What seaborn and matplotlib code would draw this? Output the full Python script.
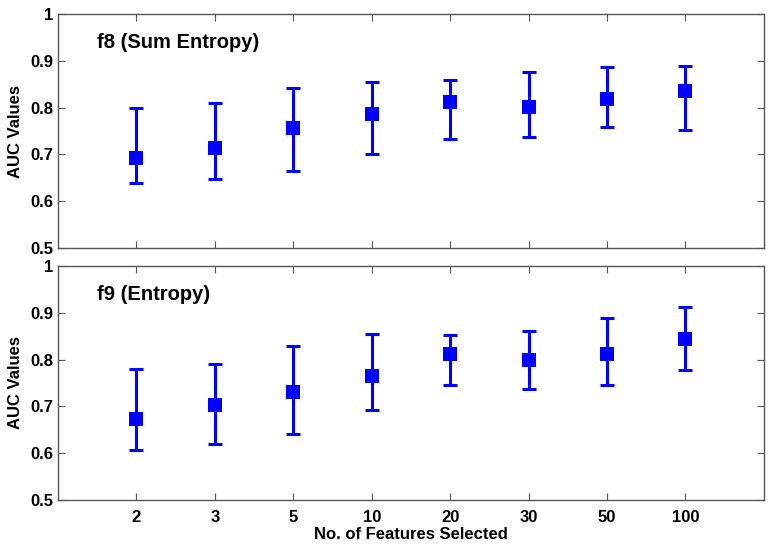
import numpy as np
import matplotlib.pyplot as plt
import seaborn as sns

# numero de features seleccionadas (eje x categorico)
n_features = ["2", "3", "5", "10", "20", "30", "50", "100"]

# f8 (Sum Entropy)
f8_auc = [0.693, 0.713, 0.757, 0.787, 0.812, 0.802, 0.818, 0.835]
f8_low = [0.640, 0.648, 0.664, 0.701, 0.733, 0.737, 0.758, 0.753]
f8_high = [0.799, 0.809, 0.841, 0.854, 0.858, 0.876, 0.886, 0.889]

# f9 (Entropy)
f9_auc = [0.674, 0.703, 0.731, 0.765, 0.812, 0.800, 0.812, 0.845]
f9_low = [0.607, 0.620, 0.642, 0.692, 0.745, 0.738, 0.745, 0.777]
f9_high = [0.779, 0.791, 0.829, 0.855, 0.852, 0.862, 0.888, 0.913]

panels = [
    ("f8 (Sum Entropy)", f8_auc, f8_low, f8_high),
    ("f9 (Entropy)", f9_auc, f9_low, f9_high),
]

sns.set_style("ticks")
plt.rcParams["font.family"] = ["Liberation Sans", "DejaVu Sans"]
plt.rcParams["font.weight"] = "bold"
plt.rcParams["text.color"] = "black"
plt.rcParams["axes.labelcolor"] = "black"

fig = plt.figure(figsize=(7.74, 5.48), dpi=100)
ax_top = fig.add_axes([0.0749, 0.5474, 0.912, 0.427])
ax_bot = fig.add_axes([0.0749, 0.0876, 0.912, 0.427])

x = np.arange(1, len(n_features) + 1)
azul = "#0000FF"

for ax, (titulo, auc, low, high) in zip([ax_top, ax_bot], panels):
    auc = np.array(auc)
    err = [auc - np.array(low), np.array(high) - auc]
    ax.errorbar(x, auc, yerr=err, fmt="none", ecolor=azul,
                elinewidth=2.2, capsize=5, capthick=2.2, zorder=2)
    sns.scatterplot(x=x, y=auc, marker="s", s=115, color=azul,
                    edgecolor=azul, linewidth=0, ax=ax, zorder=3)
    ax.set_xlim(0, 9)
    ax.set_ylim(0.5, 1)
    ax.set_xticks(x)
    ax.set_yticks([0.5, 0.6, 0.7, 0.8, 0.9, 1.0])
    ax.set_yticklabels(["0.5", "0.6", "0.7", "0.8", "0.9", "1"])
    ax.tick_params(direction="in", top=True, right=True, length=5,
                   width=0.8, color="#555555", labelcolor="black",
                   labelsize=12)
    ax.tick_params(axis="x", pad=7)
    for sp in ax.spines.values():
        sp.set_color("#555555")
        sp.set_linewidth(1.0)
    ax.set_ylabel("AUC Values", fontsize=12, fontweight="bold", labelpad=5)
    ax.text(0.055, 0.855, titulo, transform=ax.transAxes,
            fontsize=14.5, fontweight="bold")

ax_top.set_xticklabels([])
ax_top.set_xlabel("")
ax_bot.set_xticklabels(n_features)
ax_bot.set_xlabel("No. of Features Selected", fontsize=12,
                  fontweight="bold", labelpad=2)

fig.savefig("out.png", dpi=100)
